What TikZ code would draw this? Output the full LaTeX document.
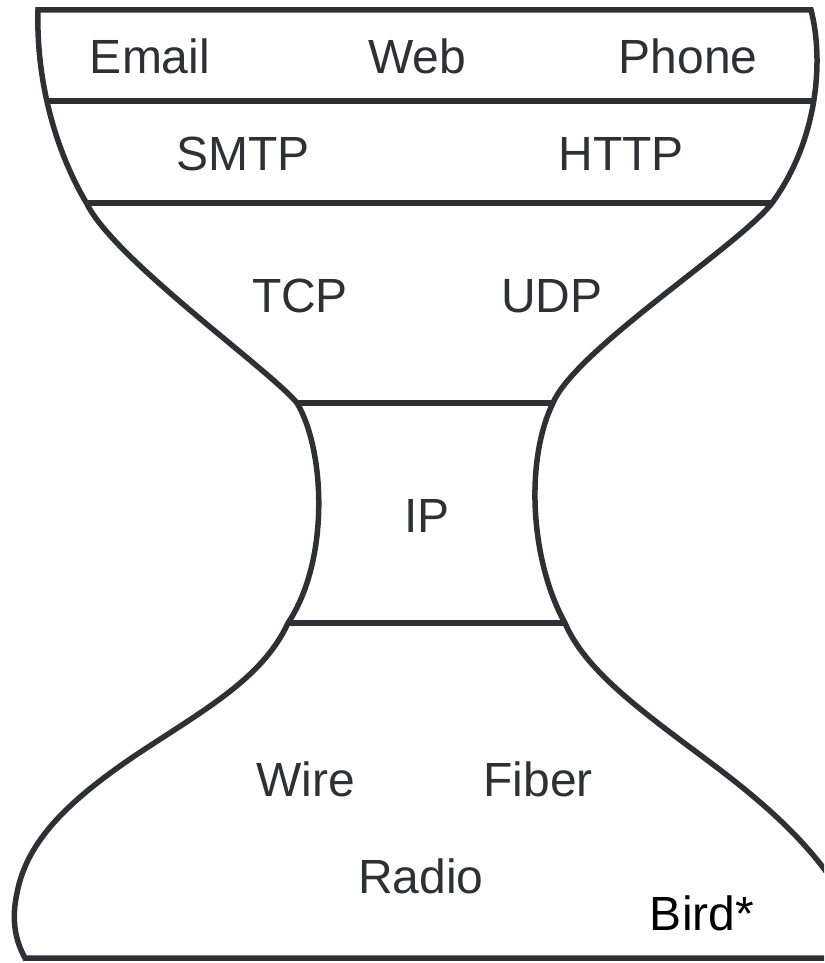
\documentclass[tikz,border=0pt]{standalone}
\usepackage{fontspec}
\setmainfont{Liberation Sans}
\definecolor{ink}{HTML}{2D3035}
\begin{document}
\begin{tikzpicture}[x=1pt,y=-1pt,
  outline/.style={draw=ink,line width=5.5pt,line join=miter},
  sep/.style={draw=ink,line width=5.5pt},
  lbl/.style={anchor=base,inner sep=0pt,text=ink,font=\fontsize{48}{58}\selectfont},
  bird/.style={anchor=base,inner sep=0pt,text=black,font=\fontsize{48}{58}\selectfont}]
\useasboundingbox (0,0) rectangle (824,963);
\clip (0,0) rectangle (824,963);
% outer hourglass outline
\draw[outline] (870,958) -- (25,958)
  .. controls (18,945) and (10,925) .. (17,893)
  .. controls (27,840) and (70,800) .. (133,757)
  .. controls (200,712) and (262,680) .. (288,623)
  .. controls (330,560) and (325,450) .. (297,403)
  .. controls (270,370) and (115,260) .. (87,204)
  .. controls (55,150) and (36,80) .. (38,10)
  -- (811,10)
  .. controls (824,60) and (818,140) .. (772,203)
  .. controls (740,245) and (575,350) .. (553,403)
  .. controls (525,460) and (530,560) .. (565,623)
  .. controls (585,670) and (640,710) .. (707,760)
  .. controls (774,810) and (830,860) .. (860,930);
% separators
\coordinate (a1) at (46,101);  \coordinate (b1) at (815,101);
\coordinate (a2) at (87,203);  \coordinate (b2) at (772,203);
\coordinate (a3) at (297,403); \coordinate (b3) at (553,403);
\coordinate (a4) at (288,623); \coordinate (b4) at (565,623);
\draw[sep] (a1) -- (b1);
\draw[sep] (a2) -- (b2);
\draw[sep] (a3) -- (b3);
\draw[sep] (a4) -- (b4);
% labels
\node[lbl] (email) at (150,74) {Email};
\node[lbl] (web) at (417,74) {Web};
\node[lbl] (phone) at (688,74) {Phone};
\node[lbl] (smtp) at (243,170) {SMTP};
\node[lbl] (http) at (621,170) {HTTP};
\node[lbl] (tcp) at (300,312) {TCP};
\node[lbl] (udp) at (552,312) {UDP};
\node[lbl] (ip) at (427,532) {IP};
\node[lbl] (wire) at (306,796) {Wire};
\node[lbl] (fiber) at (538,796) {Fiber};
\node[lbl] (radio) at (421,893) {Radio};
\node[bird] (bird) at (702,930) {Bird*};
\end{tikzpicture}
\end{document}
